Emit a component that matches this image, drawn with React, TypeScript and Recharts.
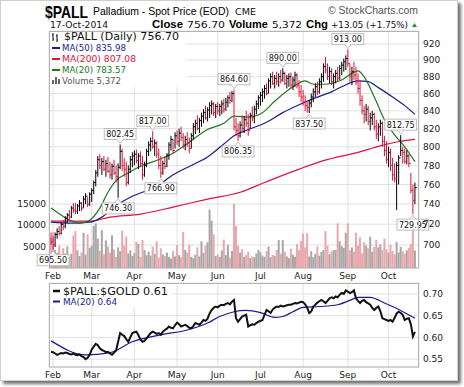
import React from "react";
import {
  ComposedChart,
  LineChart,
  Line,
  Bar,
  Cell,
  Scatter,
  ErrorBar,
  XAxis,
  YAxis,
  CartesianGrid,
} from "recharts";

const FONT = "'DejaVu Sans', Verdana, sans-serif";
const ARIAL = "'Liberation Sans', Arial, sans-serif";

const RED = "#dc143c";
const NAVY = "#1c1c8e";
const GREEN = "#21781f";

const months = ["Feb", "Mar", "Apr", "May", "Jun", "Jul", "Aug", "Sep", "Oct"];
const monthStartDay = [1, 20, 41, 62, 82, 103, 124, 146, 166];
const priceTicks = [700, 720, 740, 760, 780, 800, 820, 840, 860, 880, 900, 920];
const volumeTicks = [5000, 10000, 15000];
const ratioTicks = [0.55, 0.6, 0.65, 0.7];

// daily bars, 31-Jan-2014 .. 17-Oct-2014
const highs = [
  712, 708, 712, 716, 718, 722, 724, 728, 731, 734, 738, 741, 741, 740, 744, 742, 748, 751, 747, 752,
  756, 764, 775, 790, 792, 788, 790, 786, 789, 784, 782, 786, 780, 782, 802.45, 798, 788, 784, 780, 790,
  794, 796, 797, 793, 795, 790, 784, 798, 806, 810, 817, 808, 806, 798, 790, 785, 790, 793, 805, 812,
  808, 816, 818, 820, 822, 815, 812, 816, 810, 815, 826, 830, 835, 832, 838, 842, 846, 844, 850, 852,
  850, 848, 850, 848, 852, 854, 855, 858, 862, 863, 864.6, 832, 826, 828, 835, 834, 840, 836, 838, 845,
  846, 852, 858, 862, 866, 870, 872, 878, 884, 886, 882, 886, 884, 888, 890, 886, 882, 884, 885, 880,
  886, 884, 876, 870, 864, 858, 850, 852, 860, 866, 872, 874, 878, 884, 896, 904, 896, 892, 890, 884,
  888, 892, 894, 898, 902, 906, 913, 896, 892, 898, 892, 884, 876, 858, 846, 848, 846, 838, 840, 838,
  830, 826, 830, 828, 812, 806, 800, 798, 788, 782, 784, 791, 812.75, 800, 798, 796, 792, 772, 760, 762,
];
const lows = [
  700, 695.5, 698, 706, 709, 710, 714, 716, 721, 724, 726, 731, 730, 730, 733, 733, 736, 740, 737, 738,
  742, 750, 758, 768, 776, 770, 774, 768, 772, 766, 765, 770, 762, 746.3, 776, 774, 768, 758, 760, 772,
  778, 780, 782, 776, 778, 765, 768, 778, 790, 795, 798, 790, 788, 776, 766.9, 770, 776, 778, 786, 796,
  792, 798, 802, 800, 806, 798, 796, 800, 793, 798, 808, 814, 818, 815, 822, 826, 830, 828, 832, 836,
  834, 832, 836, 834, 836, 838, 840, 844, 848, 850, 818, 812, 806.35, 810, 816, 815, 822, 812, 820, 828,
  826, 836, 842, 846, 850, 854, 858, 860, 866, 870, 866, 870, 868, 872, 874, 870, 866, 868, 866, 864,
  868, 866, 856, 850, 846, 840, 838, 837.5, 844, 850, 856, 858, 860, 866, 874, 884, 876, 872, 870, 866,
  872, 874, 876, 882, 886, 888, 892, 874, 870, 876, 870, 860, 846, 836, 826, 828, 824, 818, 824, 818,
  808, 806, 812, 800, 790, 782, 778, 774, 764, 762, 734, 760, 790, 782, 782, 781, 778, 751, 729.95, 740,
];
const closes = [
  703, 700, 710, 713, 711, 720, 718, 726, 729, 727, 736, 734, 733, 738, 741, 736, 745, 748, 740, 750,
  754, 762, 772, 786, 780, 784, 776, 782, 774, 770, 779, 772, 768, 778, 795, 780, 776, 762, 776, 786,
  790, 792, 785, 790, 782, 770, 780, 795, 802, 806, 800, 804, 792, 780, 772, 782, 779, 791, 802, 808,
  796, 812, 806, 815, 810, 802, 808, 804, 798, 812, 822, 826, 820, 829, 834, 838, 832, 841, 846, 848,
  838, 845, 840, 845, 848, 842, 850, 855, 852, 860, 822, 818, 812, 824, 820, 830, 826, 818, 835, 832,
  842, 848, 855, 858, 862, 866, 860, 875, 880, 872, 878, 874, 880, 876, 884, 872, 878, 880, 870, 876,
  882, 870, 862, 856, 850, 846, 844, 849, 856, 862, 868, 862, 874, 880, 892, 888, 880, 886, 874, 880,
  884, 878, 890, 894, 898, 902, 896, 880, 886, 882, 874, 866, 852, 840, 836, 842, 828, 832, 836, 822,
  814, 822, 826, 806, 796, 786, 794, 780, 770, 766, 780, 788, 796, 794, 784, 790, 782, 754, 743.65, 756.7,
];
const volumes = [
  7000, 8300, 4200, 3500, 5200, 3000, 4600, 3400, 5000, 2600, 3300, 7600, 8600, 4100, 2800, 3600, 8200, 3100, 7800, 4700,
  5200, 9800, 10400, 6800, 4000, 8800, 3200, 6400, 5000, 3600, 7600, 4300, 2600, 4800, 3900, 8700, 5200, 7300, 3400, 4100,
  2800, 3500, 6100, 5600, 2600, 6500, 4200, 3000, 3800, 2900, 5000, 3300, 6200, 2400, 4600, 3200, 2800, 3600, 2600, 2200,
  3900, 2700, 5300, 3000, 2500, 8400, 4200, 3600, 5400, 2600, 2300, 3100, 4800, 2700, 6200, 3500, 5200, 6000, 13600, 11000,
  7800, 2800, 3200, 2600, 4100, 6600, 3000, 5400, 2400, 4000, 15000, 9800, 5200, 3600, 4400, 2600, 3000, 3800, 2300, 2700,
  2500, 3400, 4200, 3700, 2900, 2600, 3900, 5000, 2500, 3100, 2800, 4200, 6500, 3300, 6500, 3800, 2700, 2300, 4500, 3100,
  2600, 5600, 4200, 6300, 8000, 4800, 8100, 2700, 3900, 2500, 3300, 5000, 2900, 3700, 4200, 8600, 5200, 3200, 3900, 4200,
  4200, 10400, 6200, 5100, 4700, 8200, 10400, 4100, 4800, 3800, 8200, 5200, 7100, 3400, 6000, 5200, 4600, 7300, 3800, 4900,
  6500, 4800, 5500, 4200, 6800, 4400, 3600, 5400, 4000, 3200, 6100, 3600, 4900, 3900, 3300, 4100, 4700, 5600, 10400, 4100,
];
const ratios = [
  0.567, 0.566, 0.563, 0.56, 0.562, 0.564, 0.563, 0.565, 0.564, 0.562, 0.561, 0.563, 0.56, 0.559, 0.561, 0.557, 0.555, 0.55, 0.553, 0.56,
  0.572, 0.579, 0.585, 0.582, 0.575, 0.571, 0.569, 0.566, 0.567, 0.563, 0.56, 0.565, 0.57, 0.59, 0.61, 0.606, 0.603, 0.596, 0.59, 0.6,
  0.61, 0.612, 0.613, 0.605, 0.595, 0.59, 0.592, 0.598, 0.604, 0.61, 0.613, 0.611, 0.608, 0.61, 0.606, 0.613, 0.617, 0.62, 0.625, 0.622,
  0.621, 0.628, 0.634, 0.63, 0.625, 0.627, 0.629, 0.626, 0.622, 0.621, 0.626, 0.633, 0.631, 0.629, 0.634, 0.64, 0.638, 0.643, 0.655, 0.663,
  0.668, 0.671, 0.669, 0.673, 0.675, 0.674, 0.677, 0.679, 0.676, 0.682, 0.686, 0.644, 0.636, 0.642, 0.648, 0.65, 0.652, 0.625, 0.628, 0.63,
  0.629, 0.633, 0.636, 0.638, 0.64, 0.652, 0.663, 0.66, 0.656, 0.664, 0.668, 0.671, 0.67, 0.673, 0.671, 0.672, 0.674, 0.675, 0.675, 0.677,
  0.679, 0.678, 0.68, 0.682, 0.681, 0.676, 0.668, 0.656, 0.66, 0.671, 0.675, 0.68, 0.683, 0.686, 0.683, 0.679, 0.684, 0.69, 0.692, 0.69,
  0.694, 0.692, 0.698, 0.702, 0.7, 0.708, 0.705, 0.702, 0.704, 0.708, 0.69, 0.684, 0.679, 0.684, 0.686, 0.681, 0.678, 0.675, 0.668, 0.663,
  0.668, 0.671, 0.66, 0.644, 0.642, 0.64, 0.638, 0.64, 0.636, 0.645, 0.655, 0.659, 0.656, 0.652, 0.64, 0.643, 0.644, 0.63, 0.602, 0.613,
];

// moving averages as [day, value]
const ma50 = [
  [0, 722], [10, 721], [19, 722], [25, 727], [31, 737], [39, 747], [45, 752], [54, 761], [60, 770],
  [70, 781], [77, 789], [85, 803], [90, 812], [97, 819], [105, 826], [114, 838], [122, 847], [130, 855],
  [138, 862], [143, 868], [151, 875], [156, 874], [161, 867], [168, 856], [174, 846], [179, 836],
];
const ma200 = [
  [0, 723], [19, 723], [29, 727], [44, 730], [60, 737], [77, 745], [93, 752], [105, 762], [122, 776],
  [134, 785], [151, 794], [162, 801], [172, 806], [179, 808],
];
const ma20 = [
  [0, 736], [5, 729], [9, 724], [14, 721], [19, 724], [24, 736], [28, 752], [32, 764], [38, 772],
  [44, 779], [54, 787], [60, 793], [68, 805], [77, 819], [85, 826], [90, 834], [97, 833], [104, 838],
  [110, 851], [119, 868], [125, 875], [129, 871], [134, 871], [143, 876], [148, 884], [151, 887],
  [154, 880], [159, 856], [164, 830], [169, 813], [174, 800], [179, 784],
];
const ratioMa20 = [
  [0, 0.592], [17, 0.56], [29, 0.565], [40, 0.59], [54, 0.606], [67, 0.617], [77, 0.633], [83, 0.648],
  [90, 0.659], [96, 0.662], [103, 0.657], [110, 0.646], [114, 0.648], [119, 0.659], [124, 0.669],
  [132, 0.671], [141, 0.675], [147, 0.685], [151, 0.692], [157, 0.692], [164, 0.679], [172, 0.662],
  [179, 0.644],
];

const annDays = [1, 33, 34, 50, 54, 90, 92, 114, 127, 146, 172, 178];
const annValues = [695.5, 746.3, 802.45, 817, 766.9, 864.6, 806.35, 890, 837.5, 913, 812.75, 729.95];
const annBelow = [true, true, false, false, true, false, true, false, true, false, false, true];

const toMap = (pts: number[][]) => new Map(pts.map(([d, v]) => [d, v]));
const ma50Map = toMap(ma50);
const ma200Map = toMap(ma200);
const ma20Map = toMap(ma20);
const ratioMaMap = toMap(ratioMa20);

const rows = closes.map((close, i) => ({
  i,
  close,
  high: highs[i],
  low: lows[i],
  vol: volumes[i],
  up: i > 0 && close >= closes[i - 1],
  ma50: ma50Map.get(i) ?? null,
  ma200: ma200Map.get(i) ?? null,
  ma20: ma20Map.get(i) ?? null,
  ratio: ratios[i],
  ratioMa: ratioMaMap.get(i) ?? null,
}));

const barPoints = (up: boolean) =>
  rows
    .filter((r) => r.up === up)
    .map((r) => ({ i: r.i, close: r.close, err: [r.close - r.low, r.high - r.close] }));
const upPts = barPoints(true);
const downPts = barPoints(false);

const annPts = annDays.map((d, k) => ({
  i: d,
  v: annValues[k],
  text: annValues[k].toFixed(2),
  below: annBelow[k],
}));

const tickStyle = { fontSize: 9, fill: "#222", fontFamily: FONT };
const monthLabel = (d: number) => months[monthStartDay.indexOf(d)] ?? "";

const closeTick = (color: string) => (p: any) => (
  <line x1={p.cx} x2={p.cx + 2} y1={p.cy} y2={p.cy} stroke={color} strokeWidth={1} />
);

const AnnotationBox = (p: any) => {
  const { cx, cy, payload } = p;
  if (cx == null || cy == null) return null;
  const w = payload.text.length * 4.8 + 3;
  const h = 11;
  const top = payload.below ? cy + 5 : cy - 5 - h;
  const tipY = payload.below ? top : top + h;
  const pointY = payload.below ? cy + 1 : cy - 1;
  return (
    <g>
      <rect x={cx - w / 2} y={top} width={w} height={h} fill="#fff" stroke="#bdbdbd" />
      <polygon
        points={`${cx - 3},${tipY} ${cx},${pointY} ${cx + 3},${tipY}`}
        fill="#fff"
        stroke="#bdbdbd"
      />
      <line x1={cx - 2.5} x2={cx + 2.5} y1={tipY} y2={tipY} stroke="#fff" />
      <text x={cx} y={top + 8.5} textAnchor="middle" fontSize={8} fontFamily={FONT} fill="#111">
        {payload.text}
      </text>
    </g>
  );
};

function Header() {
  const t = { fontFamily: FONT, fill: "#111" };
  return (
    <svg width={464} height={387} style={{ position: "absolute", left: 0, top: 0, pointerEvents: "none" }}>
      <text x={45} y={17.5} fontFamily={ARIAL} fontWeight="bold" fontSize={17} textLength={43} lengthAdjust="spacingAndGlyphs">
        $PALL
      </text>
      <text x={93} y={15} fontFamily={ARIAL} fontSize={11} textLength={136} lengthAdjust="spacingAndGlyphs">
        Palladium - Spot Price (EOD)
      </text>
      <text x={235} y={15} {...t} fontSize={8.5} textLength={21} lengthAdjust="spacingAndGlyphs">
        CME
      </text>
      <text x={328} y={14} fontFamily={ARIAL} fontSize={10} fill="#555" textLength={90} lengthAdjust="spacingAndGlyphs">
        © StockCharts.com
      </text>

      <text x={50} y={28} {...t} fontSize={8.5} textLength={58} lengthAdjust="spacingAndGlyphs">
        17-Oct-2014
      </text>
      <text x={152} y={28} fontFamily={ARIAL} fontWeight="bold" fontSize={11} textLength={31} lengthAdjust="spacingAndGlyphs">
        Close
      </text>
      <text x={187} y={28} {...t} fontSize={9.5} textLength={38} lengthAdjust="spacingAndGlyphs">
        756.70
      </text>
      <text x={229} y={28} fontFamily={ARIAL} fontWeight="bold" fontSize={11} textLength={39} lengthAdjust="spacingAndGlyphs">
        Volume
      </text>
      <text x={272} y={28} {...t} fontSize={9.5} textLength={30} lengthAdjust="spacingAndGlyphs">
        5,372
      </text>
      <text x={306} y={28} fontFamily={ARIAL} fontWeight="bold" fontSize={11} textLength={22} lengthAdjust="spacingAndGlyphs">
        Chg
      </text>
      <text x={331} y={28} {...t} fontSize={9} textLength={77} lengthAdjust="spacingAndGlyphs">
        +13.05 (+1.75%)
      </text>
      <polygon points="412,27 417,27 414.5,23" fill="#1e9e1e" />

      {/* main panel legend */}
      <rect x={50} y={32} width={136} height={55} fill="#fff" />
      <path d="M53 33 V41 M52 35 H53 M53 39 H54 M57 34 V42 M56 36 H57 M57 40 H58" stroke="#111" strokeWidth={1} />
      <text x={64} y={40} {...t} fontSize={10.5} textLength={115} lengthAdjust="spacingAndGlyphs">
        $PALL (Daily) 756.70
      </text>
      <line x1={52} x2={60} y1={48} y2={48} stroke={NAVY} strokeWidth={2} />
      <text x={62} y={51.3} {...t} fill={NAVY} fontSize={8.7} textLength={64} lengthAdjust="spacingAndGlyphs">
        MA(50) 835.98
      </text>
      <line x1={52} x2={60} y1={59} y2={59} stroke={RED} strokeWidth={2} />
      <text x={62} y={62.3} {...t} fill={RED} fontSize={8.7} textLength={74} lengthAdjust="spacingAndGlyphs">
        MA(200) 807.08
      </text>
      <line x1={52} x2={60} y1={70} y2={70} stroke={GREEN} strokeWidth={2} />
      <text x={62} y={73.3} {...t} fill={GREEN} fontSize={8.7} textLength={64} lengthAdjust="spacingAndGlyphs">
        MA(20) 783.57
      </text>
      <rect x={52} y={80} width={2} height={4} fill="#666" />
      <rect x={55} y={77} width={2} height={7} fill="#666" />
      <rect x={58} y={79} width={2} height={5} fill="#666" />
      <text x={62} y={84.3} {...t} fill="#555" fontSize={8.7} textLength={59} lengthAdjust="spacingAndGlyphs">
        Volume 5,372
      </text>

      {/* lower panel legend */}
      <rect x={50} y={284} width={122} height={23} fill="#fff" />
      <line x1={53} x2={60} y1={291} y2={291} stroke="#111" strokeWidth={2.5} />
      <text x={63} y={295} {...t} fontSize={10.5} textLength={105} lengthAdjust="spacingAndGlyphs">
        $PALL:$GOLD 0.61
      </text>
      <line x1={53} x2={60} y1={301.5} y2={301.5} stroke={NAVY} strokeWidth={2} />
      <text x={63} y={305} {...t} fill={NAVY} fontSize={8.7} textLength={54} lengthAdjust="spacingAndGlyphs">
        MA(20) 0.64
      </text>

      {/* panel frames */}
      <rect x={49.5} y={31.5} width={369} height={236.5} fill="none" stroke="#b4b4b4" />
      <rect x={49.5} y={283.5} width={369} height={83.5} fill="none" stroke="#b4b4b4" />
    </svg>
  );
}

export default function App() {
  return (
    <div
      style={{
        position: "absolute",
        left: 0,
        top: 0,
        width: 464,
        height: 387,
        background: "#fff",
        overflow: "hidden",
      }}
    >
      <div
        style={{
          position: "absolute",
          left: 0,
          top: 0,
          width: 456,
          height: 379,
          border: "1px solid #cfcfcf",
          boxShadow: "3px 3px 3px rgba(0,0,0,0.55)",
          background: "#fff",
        }}
      />
      <div style={{ position: "absolute", left: 0, top: 0 }}>
        <ComposedChart width={464} height={290} data={rows} margin={{ top: 31, right: 5, bottom: 0, left: 0 }}>
          <CartesianGrid stroke="#e1e1e1" />
          <XAxis
            dataKey="i"
            type="number"
            domain={[-1, 181]}
            ticks={monthStartDay}
            interval={0}
            tickFormatter={monthLabel}
            axisLine={false}
            tickLine={false}
            tickSize={0}
            tickMargin={5}
            height={22}
            tick={tickStyle}
          />
          <YAxis
            orientation="right"
            scale="log"
            domain={[678.4, 936.4]}
            ticks={priceTicks}
            interval={0}
            axisLine={false}
            tickLine={false}
            tickSize={0}
            tickMargin={4}
            width={40}
            tick={tickStyle}
          />
          <YAxis
            yAxisId="vol"
            orientation="left"
            domain={[0, 55116]}
            ticks={volumeTicks}
            interval={0}
            axisLine={false}
            tickLine={false}
            tickSize={0}
            tickMargin={3}
            width={49}
            tick={tickStyle}
          />
          <Bar yAxisId="vol" dataKey="vol" barSize={2} isAnimationActive={false}>
            {rows.map((r) => (
              <Cell key={r.i} fill={r.up ? "#a7a7a7" : "#e9a7ae"} />
            ))}
          </Bar>
          <Line dataKey="ma200" type="monotone" connectNulls stroke={RED} strokeWidth={1.2} dot={false} isAnimationActive={false} />
          <Line dataKey="ma50" type="monotone" connectNulls stroke={NAVY} strokeWidth={1.2} dot={false} isAnimationActive={false} />
          <Line dataKey="ma20" type="monotone" connectNulls stroke={GREEN} strokeWidth={1.2} dot={false} isAnimationActive={false} />
          <Scatter data={downPts} dataKey="close" shape={closeTick(RED)} isAnimationActive={false}>
            <ErrorBar dataKey="err" direction="y" width={0} stroke={RED} strokeWidth={1} />
          </Scatter>
          <Scatter data={upPts} dataKey="close" shape={closeTick("#000")} isAnimationActive={false}>
            <ErrorBar dataKey="err" direction="y" width={0} stroke="#000" strokeWidth={1} />
          </Scatter>
          <Scatter data={annPts} dataKey="v" shape={AnnotationBox} isAnimationActive={false} />
        </ComposedChart>
      </div>
      <div style={{ position: "absolute", left: 0, top: 270 }}>
        <LineChart width={464} height={117} data={rows} margin={{ top: 13, right: 5, bottom: 0, left: 49 }}>
          <CartesianGrid stroke="#e1e1e1" />
          <XAxis
            dataKey="i"
            type="number"
            domain={[-1, 181]}
            ticks={monthStartDay}
            interval={0}
            tickFormatter={monthLabel}
            axisLine={false}
            tickLine={false}
            tickSize={0}
            tickMargin={5}
            height={20}
            tick={tickStyle}
          />
          <YAxis
            orientation="right"
            domain={[0.532, 0.725]}
            ticks={ratioTicks}
            interval={0}
            tickFormatter={(v: number) => v.toFixed(2)}
            axisLine={false}
            tickLine={false}
            tickSize={0}
            tickMargin={4}
            width={40}
            tick={tickStyle}
          />
          <Line dataKey="ratioMa" type="monotone" connectNulls stroke={NAVY} strokeWidth={1.2} dot={false} isAnimationActive={false} />
          <Line dataKey="ratio" type="linear" stroke="#111" strokeWidth={2} dot={false} isAnimationActive={false} />
        </LineChart>
      </div>
      <Header />
    </div>
  );
}
